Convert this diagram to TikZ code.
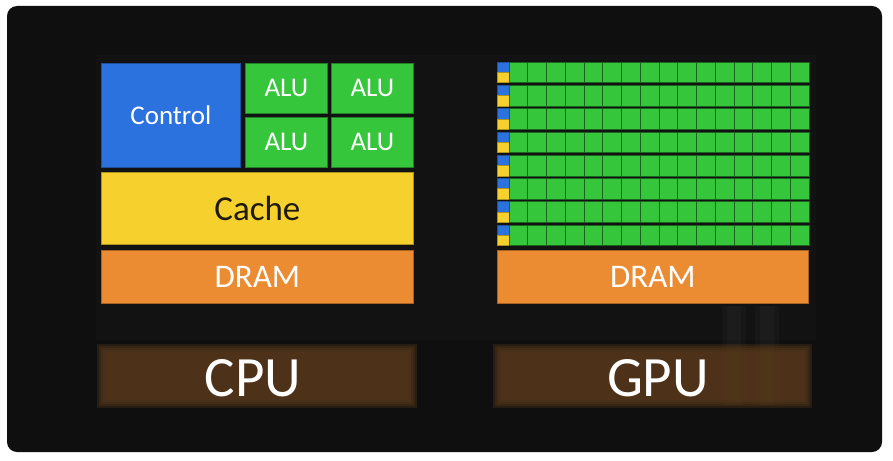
\documentclass[tikz,border=0pt]{standalone}
\usepackage{fontspec}
\setmainfont{Carlito}
\definecolor{screenbg}{RGB}{15,15,15}
\definecolor{panelbg}{RGB}{18,18,18}
\definecolor{ctrlblue}{RGB}{44,114,222}
\definecolor{alugreen}{RGB}{54,198,60}
\definecolor{cacheyellow}{RGB}{246,208,44}
\definecolor{dramorange}{RGB}{236,140,50}
\definecolor{bandbrown}{RGB}{86,56,27}
\definecolor{cachetext}{RGB}{30,26,12}
\begin{document}
\begin{tikzpicture}[x=1pt,y=-1pt,
  block/.style={rectangle, anchor=north west, inner sep=0pt, line width=0.8pt},
  ctrlbox/.style={block, fill=ctrlblue, draw=ctrlblue!70!black, text=white},
  alubox/.style={block, fill=alugreen, draw=alugreen!65!black, text=white},
  cachebox/.style={block, fill=cacheyellow, draw=cacheyellow!70!black, text=cachetext},
  drambox/.style={block, fill=dramorange, draw=dramorange!70!black, text=white},
  alucell/.style={block, fill=alugreen, draw=alugreen!50!black, line width=0.5pt,
    minimum width=18.75pt, minimum height=20.7pt},
  tinycell/.style={block, line width=0.4pt, minimum width=11.5pt, minimum height=10.35pt},
  chiplabel/.style={text=white, font=\fontsize{57}{57}\selectfont},
  ]
 % screen
 \fill[white] (0,0) rectangle (893,460);
 \fill[screenbg, rounded corners=10pt] (7,6) rectangle (882,452);
 \fill[panelbg] (96,55) rectangle (816,340);
 % CPU side
 \node [ctrlbox, minimum width=139pt, minimum height=104pt,
   font=\fontsize{27}{27}\selectfont] (control) at (101,63) {Control};
 \node [alubox, minimum width=82pt, minimum height=50pt,
   font=\fontsize{27}{27}\selectfont] (alu1) at (245,63) {ALU};
 \node [alubox, minimum width=82pt, minimum height=50pt,
   font=\fontsize{27}{27}\selectfont] (alu2) at (331,63) {ALU};
 \node [alubox, minimum width=82pt, minimum height=50pt,
   font=\fontsize{27}{27}\selectfont] (alu3) at (245,117) {ALU};
 \node [alubox, minimum width=82pt, minimum height=50pt,
   font=\fontsize{27}{27}\selectfont] (alu4) at (331,117) {ALU};
 \node [cachebox, minimum width=312pt, minimum height=72pt,
   font=\fontsize{35}{35}\selectfont] (cache) at (101,172) {Cache};
 \node [drambox, minimum width=312pt, minimum height=53pt,
   font=\fontsize{33}{33}\selectfont] (cpudram) at (101,250) {DRAM};
 % GPU side
 \foreach \r in {0,...,7}{
   \pgfmathsetmacro\rowtop{61.6+23.3*\r}
   \node [tinycell, fill=ctrlblue, draw=ctrlblue!70!black] (gctrl\r) at (497,\rowtop) {};
   \node [tinycell, fill=cacheyellow, draw=cacheyellow!70!black] (gcache\r) at (497,\rowtop+10.35) {};
   \foreach \c in {0,...,15}
     \node [alucell] (galu\r-\c) at (508.5+18.75*\c,\rowtop) {};
 }
 \node [drambox, minimum width=311pt, minimum height=53pt,
   font=\fontsize{33}{33}\selectfont] (gpudram) at (497,250) {DRAM};
 % glare streaks
 \foreach \sx in {722,755}{
   \fill[white, opacity=0.025] (\sx,306) rectangle (\sx+24,405);
   \fill[white, opacity=0.025] (\sx+5,306) rectangle (\sx+19,405);
 }
 % label bands
 \foreach \xl/\xr in {97/417, 493/812}{
   \foreach \d in {0,2,4,6,8}
     \fill[bandbrown, opacity=0.36] (\xl+\d,344+\d) rectangle (\xr-\d,408-\d);
 }
 \node [chiplabel] (cpu) at (253,378) {CPU};
 \node [chiplabel] (gpu) at (658,378) {GPU};
\end{tikzpicture}
\end{document}
